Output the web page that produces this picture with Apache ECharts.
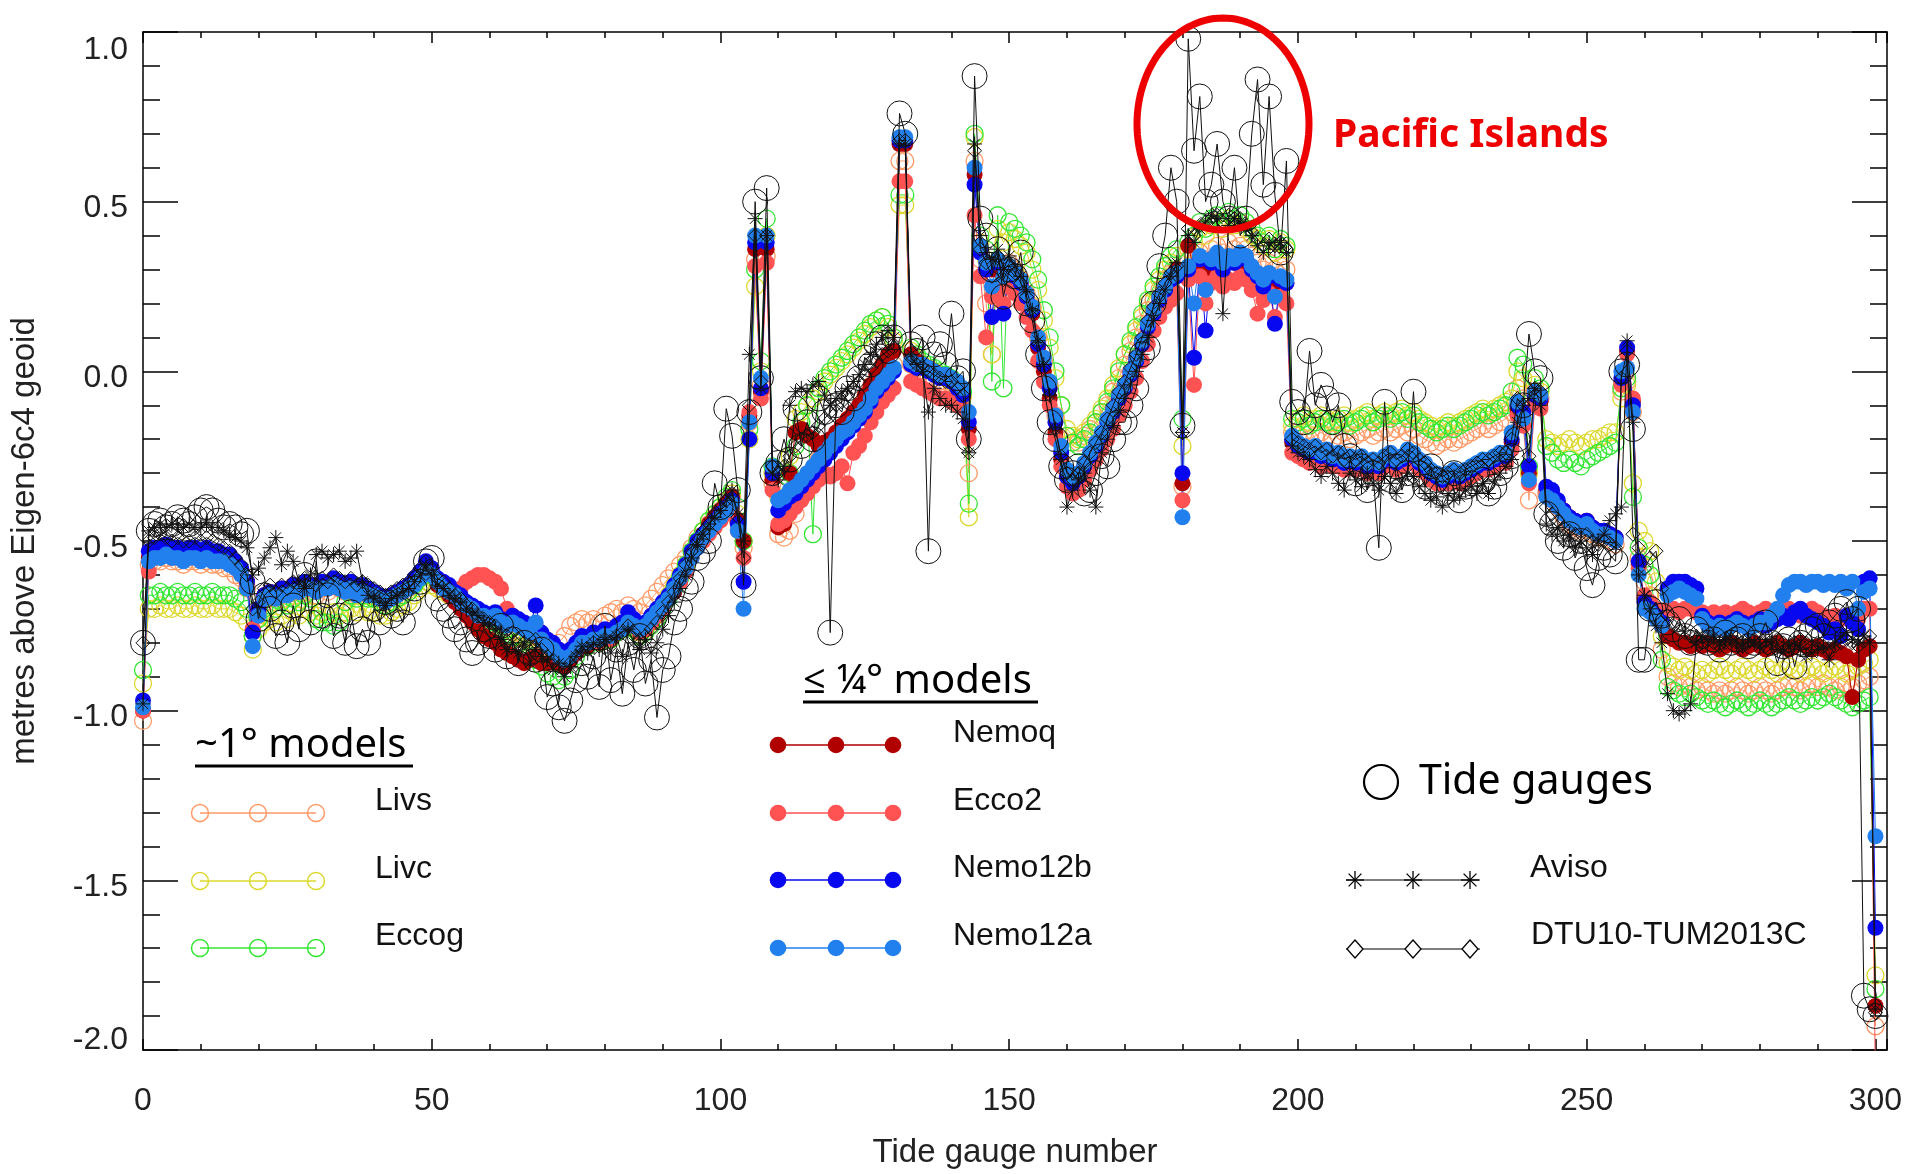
<!DOCTYPE html>
<html><head><meta charset="utf-8">
<script src="https://cdn.jsdelivr.net/npm/echarts@6/dist/echarts.min.js"></script>
<style>html,body{margin:0;padding:0;background:#fff}#c{width:1911px;height:1174px}</style>
</head><body><div id="c"></div>
<script>
// ---- data: value per tide gauge (index = gauge number 0..300) ----
const livs = [
-1.03,-.57,-.56,-.56,-.55,-.56,-.56,-.57,-.56,-.56,
-.57,-.56,-.57,-.57,-.58,-.58,-.60,-.61,-.64,-.78,
-.72,-.68,-.67,-.68,-.66,-.67,-.65,-.66,-.64,-.65,
-.66,-.64,-.65,-.63,-.64,-.65,-.64,-.66,-.65,-.66,
-.67,-.68,-.69,-.68,-.67,-.66,-.65,-.63,-.61,-.58,
-.60,-.62,-.63,-.64,-.66,-.67,-.69,-.70,-.71,-.72,
-.74,-.75,-.77,-.78,-.79,-.80,-.81,-.80,-.79,-.81,
-.82,-.81,-.80,-.78,-.75,-.74,-.73,-.74,-.73,-.74,
-.72,-.71,-.70,-.71,-.69,-.70,-.71,-.69,-.67,-.65,
-.63,-.61,-.59,-.57,-.55,-.52,-.49,-.47,-.45,-.43,
-.41,-.39,-.37,-.44,-.52,-.15,.33,-.04,.34,-.33,
-.48,-.49,-.47,-.42,-.36,-.32,-.29,-.26,-.24,-.22,
-.20,-.18,-.16,-.13,-.11,-.08,-.05,-.03,-.01,.01,
.02,.62,.62,.02,.01,.00,-.01,-.02,-.03,-.03,
-.04,-.05,-.07,-.30,.62,.33,.20,.05,.30,.25,
.32,.30,.27,.23,.19,.10,.03,-.04,-.13,-.20,
-.19,-.21,-.21,-.19,-.17,-.15,-.12,-.10,-.06,-.02,
.02,.06,.10,.14,.18,.21,.24,.27,.29,.30,
-.34,.33,.32,.35,.33,.36,.37,.35,.38,.36,
.37,.36,.34,.32,.30,.32,.30,.31,.30,-.18,
-.19,-.18,-.20,-.19,-.18,-.19,-.20,-.19,-.18,-.20,
-.19,-.18,-.17,-.19,-.18,-.17,-.18,-.17,-.16,-.18,
-.17,-.19,-.20,-.21,-.22,-.21,-.20,-.21,-.20,-.19,
-.18,-.17,-.16,-.17,-.16,-.15,-.14,-.12,-.05,-.08,
-.38,-.06,-.08,-.36,-.37,-.40,-.43,-.45,-.46,-.47,
-.46,-.48,-.49,-.49,-.50,-.51,-.06,-.03,-.12,-.55,
-.62,-.66,-.72,-.82,-.90,-.92,-.93,-.92,-.93,-.94,
-.93,-.94,-.95,-.94,-.95,-.94,-.93,-.94,-.95,-.94,
-.93,-.94,-.95,-.94,-.93,-.92,-.93,-.94,-.93,-.92,
-.93,-.92,-.93,-.94,-.93,-.92,-.93,-.92,-.91,-.90,-1.93];

const livc = [
-.92,-.70,-.70,-.69,-.70,-.70,-.69,-.70,-.70,-.69,
-.70,-.70,-.69,-.70,-.70,-.70,-.71,-.72,-.74,-.82,
-.76,-.74,-.73,-.74,-.72,-.73,-.71,-.72,-.70,-.71,
-.72,-.71,-.72,-.71,-.72,-.71,-.70,-.71,-.70,-.71,
-.71,-.72,-.72,-.71,-.70,-.69,-.68,-.66,-.64,-.62,
-.63,-.64,-.65,-.66,-.67,-.68,-.70,-.71,-.72,-.73,
-.74,-.74,-.75,-.76,-.77,-.78,-.79,-.80,-.81,-.82,
-.84,-.85,-.86,-.85,-.84,-.82,-.80,-.80,-.79,-.80,
-.78,-.79,-.77,-.76,-.75,-.76,-.77,-.76,-.74,-.72,
-.69,-.66,-.63,-.60,-.57,-.53,-.50,-.47,-.44,-.42,
-.40,-.38,-.36,-.42,-.50,-.20,.25,.00,.40,-.30,
-.37,-.40,-.25,-.14,-.12,-.10,-.08,-.06,-.03,-.01,
.01,.03,.05,.07,.09,.11,.13,.15,.16,.13,
.09,.49,.49,.06,.04,.02,.01,.00,-.01,-.02,
-.03,-.05,-.07,-.43,.69,.38,.33,.05,.42,.38,
.41,.39,.37,.35,.30,.24,.15,.07,-.02,-.10,
-.17,-.19,-.20,-.18,-.16,-.14,-.11,-.08,-.04,.01,
.05,.08,.12,.16,.20,.24,.27,.30,.32,.34,
-.22,.36,.38,.42,.40,.43,.44,.42,.45,.43,
.44,.42,.40,.39,.37,.39,.35,.38,.36,-.16,
-.14,-.13,-.15,-.14,-.13,-.14,-.15,-.14,-.13,-.15,
-.14,-.13,-.12,-.14,-.13,-.12,-.13,-.12,-.11,-.13,
-.12,-.14,-.15,-.16,-.17,-.16,-.15,-.16,-.15,-.14,
-.13,-.12,-.11,-.12,-.11,-.10,-.09,-.08,.00,-.02,
-.30,-.04,-.06,-.20,-.21,-.22,-.21,-.20,-.21,-.22,
-.21,-.20,-.20,-.19,-.18,-.18,-.08,-.04,-.33,-.47,
-.50,-.53,-.62,-.78,-.86,-.87,-.88,-.87,-.88,-.89,
-.88,-.89,-.88,-.87,-.88,-.89,-.88,-.87,-.88,-.89,
-.88,-.87,-.88,-.89,-.88,-.87,-.88,-.89,-.88,-.87,
-.88,-.89,-.88,-.87,-.88,-.89,-.88,-.87,-.86,-.85,-1.78];

const eccog = [
-.88,-.66,-.66,-.65,-.66,-.66,-.65,-.66,-.66,-.65,
-.66,-.66,-.65,-.66,-.66,-.66,-.67,-.68,-.70,-.78,
-.73,-.70,-.69,-.70,-.68,-.69,-.67,-.68,-.66,-.67,
-.73,-.74,-.74,-.75,-.74,-.68,-.66,-.67,-.66,-.67,
-.67,-.68,-.69,-.68,-.67,-.66,-.65,-.63,-.61,-.59,
-.60,-.62,-.63,-.64,-.66,-.67,-.69,-.70,-.72,-.73,
-.74,-.73,-.75,-.76,-.78,-.80,-.82,-.84,-.85,-.87,
-.89,-.90,-.91,-.90,-.88,-.84,-.80,-.81,-.79,-.80,
-.78,-.79,-.77,-.76,-.74,-.76,-.78,-.77,-.75,-.73,
-.70,-.67,-.64,-.61,-.57,-.53,-.50,-.47,-.44,-.42,
-.40,-.37,-.35,-.40,-.50,-.17,.30,.03,.45,-.28,
-.35,-.38,-.30,-.22,-.15,-.10,-.48,-.05,-.02,.00,
.02,.04,.06,.08,.10,.12,.14,.15,.16,.14,
.10,.52,.52,.07,.05,.03,.02,.01,.00,-.01,
-.02,-.04,-.06,-.39,.70,.40,.36,-.03,.46,-.05,
.44,.42,.40,.38,.33,.27,.18,.10,.00,-.10,
-.19,-.21,-.22,-.20,-.18,-.15,-.12,-.09,-.05,.00,
.05,.09,.13,.17,.21,.25,.28,.31,.34,.36,
-.14,.38,.40,.44,.42,.45,.46,.44,.47,.45,
.46,.44,.42,.40,.38,.40,.36,.39,.37,-.14,
-.15,-.14,-.16,-.15,-.14,-.15,-.16,-.15,-.14,-.16,
-.15,-.14,-.13,-.15,-.14,-.13,-.14,-.13,-.12,-.14,
-.13,-.15,-.16,-.17,-.18,-.17,-.16,-.17,-.16,-.15,
-.14,-.13,-.12,-.13,-.12,-.11,-.10,-.06,.04,.02,
-.28,-.02,-.05,-.22,-.24,-.26,-.27,-.26,-.27,-.28,
-.26,-.25,-.24,-.23,-.22,-.21,-.05,-.02,-.37,-.52,
-.57,-.60,-.72,-.85,-.93,-.94,-.95,-.96,-.95,-.96,
-.97,-.98,-.97,-.98,-.99,-.98,-.97,-.98,-.99,-.98,
-.97,-.98,-.99,-.98,-.97,-.96,-.97,-.98,-.97,-.96,
-.97,-.96,-.95,-.96,-.97,-.98,-.99,-.98,-.97,-.96,-1.82];

const nemoq = [
-1.00,-.55,-.54,-.53,-.53,-.54,-.53,-.54,-.54,-.53,
-.54,-.53,-.54,-.54,-.55,-.55,-.57,-.59,-.62,-.76,
-.70,-.66,-.65,-.66,-.64,-.65,-.63,-.64,-.63,-.64,
-.64,-.63,-.64,-.62,-.63,-.64,-.63,-.65,-.64,-.65,
-.66,-.67,-.68,-.67,-.66,-.65,-.64,-.62,-.60,-.58,
-.60,-.63,-.64,-.66,-.68,-.70,-.72,-.74,-.76,-.78,
-.79,-.80,-.82,-.83,-.84,-.85,-.86,-.85,-.84,-.86,
-.86,-.85,-.86,-.87,-.85,-.83,-.81,-.81,-.79,-.80,
-.78,-.79,-.77,-.76,-.74,-.75,-.77,-.76,-.74,-.72,
-.70,-.67,-.65,-.62,-.58,-.54,-.51,-.48,-.45,-.43,
-.41,-.39,-.37,-.44,-.50,-.13,.36,-.06,.36,-.32,
-.46,-.45,-.30,-.18,-.17,-.19,-.20,-.22,-.21,-.20,
-.18,-.16,-.14,-.12,-.10,-.07,-.04,-.01,.02,.05,
.06,.67,.67,.05,.03,.02,.01,.00,-.01,-.02,
-.03,-.05,-.07,-.17,.58,.36,.30,.30,.32,.29,
.30,.28,.25,.21,.17,.07,.00,-.08,-.18,-.26,
-.31,-.33,-.31,-.28,-.25,-.22,-.19,-.15,-.11,-.07,
-.04,.00,.04,.09,.14,.18,.22,.25,.28,.30,
-.33,.37,.30,.32,.30,.33,.34,.31,.33,.32,
.33,.32,.30,.28,.26,.28,.26,.27,.26,-.21,
-.22,-.23,-.24,-.23,-.25,-.24,-.26,-.25,-.27,-.26,
-.27,-.26,-.28,-.27,-.28,-.26,-.25,-.27,-.26,-.24,
-.25,-.27,-.28,-.30,-.31,-.32,-.31,-.30,-.31,-.30,
-.29,-.28,-.27,-.27,-.26,-.25,-.25,-.21,-.11,-.13,
-.30,-.08,-.09,-.35,-.36,-.39,-.41,-.43,-.44,-.45,
-.44,-.46,-.47,-.47,-.48,-.49,-.03,.06,-.09,-.57,
-.67,-.70,-.72,-.75,-.78,-.79,-.80,-.80,-.81,-.80,
-.81,-.80,-.81,-.82,-.81,-.80,-.81,-.82,-.81,-.80,
-.81,-.82,-.81,-.80,-.81,-.82,-.81,-.80,-.81,-.82,
-.81,-.82,-.83,-.82,-.83,-.84,-.96,-.85,-.82,-.81,-1.87];

const ecco2 = [
-1.00,-.59,-.55,-.54,-.54,-.55,-.54,-.55,-.55,-.54,
-.55,-.54,-.55,-.55,-.56,-.56,-.58,-.60,-.63,-.76,
-.71,-.67,-.66,-.67,-.65,-.66,-.64,-.65,-.64,-.64,
-.65,-.63,-.64,-.63,-.64,-.64,-.63,-.65,-.64,-.65,
-.66,-.67,-.67,-.66,-.66,-.65,-.64,-.62,-.60,-.58,
-.59,-.62,-.63,-.64,-.66,-.64,-.62,-.61,-.60,-.60,
-.61,-.62,-.64,-.70,-.72,-.74,-.75,-.76,-.75,-.78,
-.80,-.81,-.83,-.84,-.83,-.81,-.80,-.80,-.79,-.80,
-.78,-.79,-.77,-.76,-.74,-.75,-.77,-.76,-.74,-.72,
-.70,-.67,-.64,-.62,-.59,-.55,-.52,-.50,-.48,-.46,
-.44,-.42,-.40,-.47,-.55,-.12,.31,-.08,.32,-.35,
-.45,-.44,-.42,-.40,-.38,-.36,-.34,-.32,-.30,-.31,
-.30,-.28,-.33,-.24,-.22,-.19,-.15,-.12,-.09,-.07,
-.05,.56,.56,-.03,-.04,-.05,-.06,-.07,-.08,-.08,
-.09,-.10,-.11,-.20,.46,.28,.10,.22,.24,.20,
.25,.23,.20,.16,.12,.03,-.03,-.10,-.20,-.28,
-.34,-.36,-.35,-.32,-.29,-.26,-.23,-.20,-.17,-.13,
-.10,-.06,-.02,.03,.08,.12,.16,.19,.21,.23,
-.38,.27,-.04,.28,.20,.26,.28,.25,.27,.26,
.28,.27,.24,.17,.21,.23,.16,.22,.20,-.24,
-.25,-.26,-.27,-.26,-.28,-.27,-.28,-.28,-.29,-.28,
-.29,-.28,-.30,-.29,-.30,-.28,-.27,-.29,-.28,-.27,
-.27,-.29,-.30,-.32,-.33,-.33,-.33,-.32,-.33,-.32,
-.31,-.30,-.29,-.29,-.28,-.27,-.27,-.23,-.13,-.16,
-.33,-.10,-.11,-.36,-.38,-.40,-.42,-.44,-.45,-.46,
-.45,-.47,-.48,-.48,-.49,-.50,-.04,.05,-.08,-.58,
-.66,-.68,-.70,-.71,-.70,-.70,-.71,-.70,-.70,-.71,
-.71,-.72,-.71,-.72,-.71,-.72,-.71,-.70,-.71,-.72,
-.71,-.70,-.71,-.72,-.71,-.70,-.71,-.72,-.71,-.70,
-.71,-.72,-.73,-.72,-.73,-.72,-.74,-.73,-.70,-.70,-2.10];

const nemo12b = [
-.97,-.53,-.52,-.52,-.51,-.52,-.52,-.53,-.52,-.52,
-.53,-.52,-.53,-.53,-.54,-.54,-.56,-.58,-.62,-.77,
-.70,-.66,-.65,-.66,-.64,-.65,-.63,-.64,-.62,-.63,
-.64,-.62,-.63,-.61,-.62,-.63,-.62,-.64,-.63,-.64,
-.65,-.66,-.67,-.66,-.65,-.64,-.63,-.61,-.59,-.56,
-.58,-.61,-.62,-.63,-.65,-.66,-.68,-.69,-.70,-.71,
-.72,-.71,-.73,-.74,-.72,-.73,-.74,-.75,-.69,-.77,
-.79,-.80,-.82,-.83,-.82,-.80,-.78,-.79,-.77,-.78,
-.76,-.77,-.75,-.74,-.71,-.73,-.75,-.74,-.72,-.70,
-.68,-.66,-.63,-.60,-.57,-.53,-.50,-.48,-.46,-.44,
-.42,-.40,-.38,-.45,-.62,-.20,.38,-.05,.38,-.30,
-.41,-.39,-.37,-.36,-.34,-.32,-.30,-.28,-.26,-.24,
-.22,-.20,-.18,-.16,-.14,-.12,-.09,-.06,-.04,-.02,
.00,.68,.68,.02,.01,.01,.00,-.01,-.02,-.02,
-.03,-.05,-.07,-.15,.55,.35,.30,.16,.32,.17,
.30,.28,.26,.22,.18,.08,.02,-.05,-.15,-.24,
-.31,-.33,-.31,-.28,-.25,-.22,-.19,-.15,-.12,-.08,
-.05,-.01,.03,.08,.13,.17,.21,.24,.27,.28,
-.30,.30,.04,.33,.12,.32,.34,.30,.33,.32,
.34,.33,.30,.28,.25,.28,.14,.27,.26,-.20,
-.22,-.23,-.24,-.23,-.25,-.24,-.26,-.25,-.27,-.26,
-.27,-.26,-.28,-.27,-.28,-.26,-.25,-.27,-.26,-.24,
-.25,-.27,-.28,-.30,-.31,-.32,-.31,-.30,-.31,-.30,
-.29,-.28,-.27,-.27,-.26,-.25,-.25,-.20,-.10,-.12,
-.28,-.07,-.08,-.34,-.35,-.38,-.41,-.43,-.44,-.45,
-.44,-.46,-.47,-.47,-.48,-.49,-.02,.07,-.10,-.56,
-.68,-.70,-.72,-.74,-.64,-.62,-.62,-.62,-.63,-.64,
-.72,-.74,-.75,-.74,-.75,-.74,-.73,-.74,-.75,-.74,
-.73,-.75,-.74,-.73,-.72,-.73,-.71,-.70,-.72,-.73,
-.74,-.75,-.77,-.76,-.78,-.72,-.74,-.76,-.62,-.61,-1.64];

const nemo12a = [
-.99,-.56,-.55,-.55,-.54,-.55,-.55,-.56,-.55,-.55,
-.56,-.55,-.56,-.56,-.56,-.57,-.58,-.60,-.64,-.81,
-.72,-.67,-.66,-.67,-.66,-.66,-.65,-.65,-.64,-.64,
-.65,-.64,-.64,-.63,-.64,-.65,-.64,-.66,-.65,-.66,
-.66,-.67,-.68,-.67,-.66,-.65,-.64,-.63,-.61,-.59,
-.60,-.62,-.64,-.65,-.66,-.68,-.69,-.70,-.72,-.72,
-.73,-.72,-.74,-.75,-.74,-.75,-.76,-.77,-.74,-.79,
-.81,-.82,-.84,-.85,-.84,-.82,-.80,-.80,-.79,-.79,
-.78,-.78,-.77,-.76,-.74,-.75,-.76,-.75,-.73,-.71,
-.69,-.67,-.64,-.61,-.58,-.55,-.52,-.49,-.47,-.45,
-.43,-.41,-.39,-.47,-.70,-.15,.40,-.02,.40,-.28,
-.38,-.37,-.35,-.34,-.32,-.30,-.28,-.26,-.24,-.22,
-.20,-.18,-.17,-.15,-.13,-.11,-.08,-.05,-.03,-.01,
.01,.69,.69,.03,.02,.02,.01,.00,-.01,-.01,
-.02,-.03,-.05,-.12,.60,.37,.32,.25,.33,.28,
.31,.29,.27,.23,.19,.10,.04,-.03,-.13,-.22,
-.29,-.31,-.30,-.27,-.24,-.21,-.18,-.14,-.11,-.07,
-.04,.00,.04,.09,.14,.18,.22,.25,.28,.29,
-.43,.31,.20,.34,.24,.33,.35,.32,.34,.33,
.35,.34,.31,.29,.27,.29,.22,.28,.27,-.19,
-.21,-.22,-.23,-.22,-.24,-.23,-.25,-.24,-.26,-.25,
-.26,-.25,-.27,-.26,-.27,-.25,-.24,-.26,-.25,-.23,
-.24,-.26,-.27,-.29,-.30,-.31,-.30,-.29,-.30,-.29,
-.28,-.27,-.26,-.26,-.25,-.24,-.24,-.18,-.09,-.14,
-.32,-.06,-.07,-.37,-.38,-.40,-.42,-.44,-.45,-.46,
-.45,-.47,-.48,-.48,-.49,-.50,.00,.01,-.12,-.60,
-.70,-.71,-.73,-.75,-.66,-.65,-.64,-.65,-.66,-.67,
-.73,-.75,-.76,-.75,-.76,-.75,-.74,-.75,-.76,-.75,
-.74,-.74,-.72,-.70,-.66,-.63,-.62,-.62,-.63,-.62,
-.62,-.63,-.62,-.63,-.62,-.64,-.62,-.70,-.65,-.64,-1.37];

const dtu = [
-.80,-.50,-.49,-.48,-.49,-.50,-.49,-.50,-.50,-.49,
-.50,-.49,-.50,-.51,-.52,-.53,-.55,-.57,-.60,-.70,
-.68,-.64,-.63,-.65,-.63,-.64,-.62,-.63,-.61,-.62,
-.63,-.61,-.62,-.60,-.61,-.62,-.61,-.63,-.62,-.63,
-.64,-.65,-.66,-.65,-.64,-.63,-.62,-.60,-.58,-.56,
-.58,-.61,-.62,-.64,-.66,-.67,-.69,-.70,-.72,-.73,
-.74,-.75,-.77,-.78,-.77,-.79,-.80,-.81,-.79,-.82,
-.84,-.85,-.87,-.88,-.86,-.84,-.82,-.82,-.80,-.81,
-.79,-.80,-.78,-.77,-.75,-.77,-.79,-.78,-.76,-.74,
-.71,-.68,-.65,-.61,-.57,-.53,-.50,-.47,-.45,-.42,
-.40,-.38,-.36,-.43,-.55,-.10,.40,-.03,.40,-.28,
-.30,-.28,-.25,-.22,-.20,-.19,-.18,-.16,-.14,-.12,
-.10,-.09,-.07,-.05,-.03,-.01,.01,.03,.05,.06,
.07,.68,.68,.04,.02,.01,.00,-.01,-.02,-.03,
-.03,-.05,-.07,-.24,.65,.36,.32,.28,.34,.27,
.31,.29,.26,.22,.17,.08,.01,-.07,-.17,-.25,
-.30,-.32,-.30,-.27,-.24,-.21,-.18,-.14,-.10,-.06,
-.03,.01,.05,.10,.15,.19,.23,.26,.29,.31,
-.18,.42,.40,.43,.44,.45,.46,.44,.46,.45,
.45,.43,.41,.39,.37,.39,.37,.38,.36,-.20,
-.21,-.22,-.23,-.22,-.24,-.23,-.25,-.24,-.26,-.25,
-.26,-.25,-.27,-.26,-.27,-.25,-.24,-.26,-.25,-.23,
-.24,-.26,-.27,-.29,-.30,-.31,-.30,-.29,-.30,-.29,
-.28,-.27,-.26,-.26,-.25,-.24,-.24,-.20,-.08,-.10,
-.25,-.05,-.06,-.40,-.42,-.44,-.46,-.47,-.48,-.49,
-.48,-.50,-.51,-.50,-.51,-.52,-.02,.06,-.48,-.52,
-.58,-.55,-.53,-.64,-.72,-.75,-.76,-.77,-.78,-.79,
-.80,-.79,-.80,-.81,-.80,-.79,-.80,-.81,-.80,-.79,
-.80,-.81,-.80,-.79,-.80,-.81,-.80,-.79,-.80,-.81,
-.80,-.81,-.82,-.81,-.80,-.79,-.80,-.81,-.79,-.78,-1.89];

const aviso = [
-.98,-.47,-.46,-.45,-.46,-.45,-.45,-.46,-.45,-.46,
-.46,-.45,-.46,-.46,-.47,-.48,-.49,-.50,-.52,-.60,
-.58,-.55,-.52,-.49,-.57,-.53,-.56,-.62,-.64,-.60,
-.54,-.53,-.55,-.54,-.53,-.56,-.55,-.53,-.62,-.66,
-.67,-.68,-.69,-.67,-.66,-.65,-.64,-.62,-.60,-.57,
-.60,-.63,-.64,-.66,-.67,-.68,-.70,-.71,-.72,-.74,
-.75,-.76,-.79,-.82,-.80,-.83,-.80,-.86,-.82,-.84,
-.85,-.88,-.86,-.90,-.87,-.84,-.81,-.83,-.80,-.82,
-.79,-.83,-.78,-.84,-.76,-.80,-.82,-.79,-.83,-.80,
-.76,-.72,-.68,-.64,-.60,-.55,-.51,-.48,-.45,-.43,
-.41,-.38,-.35,-.42,-.50,.05,.45,-.05,.40,-.30,
-.32,-.28,-.10,-.06,-.05,-.06,-.04,-.03,-.07,-.10,
-.08,-.06,-.05,-.03,-.01,.02,.05,.08,.10,.12,
.10,.67,.67,.05,.02,.00,-.12,-.05,-.08,-.10,
-.10,-.12,-.14,-.24,.67,.40,.35,.33,.36,.30,
.34,.31,.28,.24,.18,.09,.02,-.07,-.17,-.26,
-.40,-.35,-.32,-.30,-.35,-.40,-.24,-.20,-.16,-.12,
-.08,-.04,.00,.05,.10,.15,.20,.24,.28,.32,
-.18,.40,.38,.42,.44,.46,.45,.17,.43,.45,
.44,.42,.40,.37,.35,.38,.36,.38,.35,-.22,
-.24,-.25,-.26,-.29,-.31,-.28,-.30,-.33,-.35,-.30,
-.32,-.34,-.30,-.33,-.35,-.31,-.33,-.36,-.32,-.30,
-.31,-.34,-.36,-.38,-.37,-.40,-.36,-.38,-.37,-.35,
-.34,-.36,-.33,-.36,-.32,-.30,-.28,-.26,-.15,-.10,
-.08,-.05,-.10,-.45,-.48,-.46,-.50,-.48,-.52,-.50,
-.52,-.54,-.50,-.48,-.44,-.42,-.40,.09,-.15,-.60,
-.66,-.70,-.75,-.80,-.95,-1.00,-1.01,-1.00,-.98,-.80,
-.78,-.79,-.78,-.80,-.79,-.78,-.80,-.81,-.79,-.80,
-.81,-.79,-.80,-.82,-.83,-.81,-.80,-.82,-.84,-.83,
-.82,-.81,-.85,-.80,-.78,-.77,-.79,-.80,-.78,-.80,-1.88];

const tideGauges = [
-.80,-.47,-.45,-.44,-.46,-.45,-.43,-.44,-.45,-.43,
-.41,-.40,-.41,-.44,-.46,-.45,-.46,-.48,-.47,-.62,
-.73,-.66,-.70,-.78,-.74,-.80,-.69,-.76,-.60,-.74,
-.56,-.72,-.66,-.78,-.72,-.80,-.71,-.81,-.76,-.80,
-.70,-.74,-.68,-.72,-.70,-.74,-.68,-.64,-.62,-.56,
-.55,-.67,-.70,-.72,-.76,-.74,-.79,-.83,-.80,-.76,
-.78,-.82,-.75,-.84,-.79,-.86,-.80,-.83,-.85,-.82,
-.96,-.92,-.99,-1.03,-.97,-.91,-.86,-.90,-.84,-.93,
-.75,-.91,-.82,-.95,-.80,-.88,-.78,-.92,-.85,-1.02,
-.88,-.84,-.74,-.70,-.64,-.62,-.55,-.53,-.50,-.33,
-.40,-.11,-.19,-.35,-.63,-.12,.50,-.02,.54,-.30,
-.27,-.20,-.26,-.11,-.22,-.15,-.20,-.08,-.12,-.77,
-.10,-.12,-.05,-.08,-.02,.04,.02,.08,.10,.06,
.10,.76,.70,.08,.06,.10,-.53,.05,.08,.02,
.17,-.02,.00,-.20,.87,.45,.40,.30,.36,.22,
.30,.28,.35,.20,.15,.05,-.05,-.15,-.20,-.28,
-.32,-.30,-.28,-.36,-.35,-.30,-.25,-.28,-.20,-.15,
-.15,-.10,-.05,.05,.07,.20,.31,.40,.60,.50,
-.16,.98,.65,.81,.50,.55,.67,.50,.45,.60,
.40,.45,.70,.86,.55,.81,.52,.35,.62,-.09,
-.12,-.15,.06,-.10,-.04,-.08,-.15,-.10,-.22,-.25,
-.33,-.28,-.35,-.30,-.52,-.09,-.32,-.28,-.35,-.30,
-.06,-.30,-.34,-.28,-.32,-.36,-.33,-.30,-.38,-.34,
-.33,-.30,-.32,-.36,-.34,-.30,-.28,-.25,-.20,-.10,
.11,.00,-.02,-.42,-.45,-.50,-.52,-.48,-.55,-.50,
-.58,-.63,-.55,-.52,-.54,-.56,.00,.02,-.17,-.85,
-.85,-.70,-.68,-.72,-.74,-.76,-.73,-.78,-.80,-.76,
-.78,-.80,-.79,-.82,-.77,-.80,-.79,-.78,-.81,-.80,
-.78,-.74,-.80,-.86,-.81,-.79,-.87,-.80,-.78,-.76,
-.75,-.78,-.74,-.72,-.70,-.68,-.73,-.70,-1.84,-1.88,-1.90];

const xTicks = [0, 50, 100, 150, 200, 250, 300];
const yTicks = [-2.0, -1.5, -1.0, -0.5, 0.0, 0.5, 1.0];

const all = {livs, livc, eccog, nemoq, ecco2, nemo12b, nemo12a, dtu, aviso, tideGauges};
for (const k in all) if (all[k].length !== 301) throw new Error('length ' + k + ' ' + all[k].length);
const gauges = livs.map((_, i) => i);

// ---- styles ----
const C = {livs:'#ff9a66', livc:'#dcd82e', eccog:'#33e633', nemoq:'#b00000', ecco2:'#ff5252',
           nemo12b:'#0808f0', nemo12a:'#2280ee', black:'#000'};
const ASTER = 'path://M10,0L10,20M0,10L20,10M2.93,2.93L17.07,17.07M2.93,17.07L17.07,2.93';

function openSeries(name, vals, col, size, z) {
  return {type:'line', name, z, data: vals.map((v,i)=>[gauges[i], v]),
    symbol:'circle', symbolSize:size, showAllSymbol:true, animation:false, silent:true,
    lineStyle:{color:col, width:1}, itemStyle:{color:'rgba(255,255,255,0)', borderColor:col, borderWidth:1.3}};
}
function filledSeries(name, vals, col, z) {
  return {type:'line', name, z, data: vals.map((v,i)=>[gauges[i], v]),
    symbol:'circle', symbolSize:16, showAllSymbol:true, animation:false, silent:true,
    lineStyle:{color:col, width:1}, itemStyle:{color:col, borderWidth:0}};
}
function blackSeries(name, vals, symbol, size, z) {
  return {type:'line', name, z, data: vals.map((v,i)=>[gauges[i], v]),
    symbol, symbolSize:size, showAllSymbol:true, animation:false, silent:true,
    lineStyle:{color:'#111', width:1}, itemStyle:{color:'rgba(255,255,255,0)', borderColor:'#111', borderWidth:1}};
}

const series = [
  openSeries('Livs', livs, C.livs, 17, 2),
  openSeries('Livc', livc, C.livc, 17, 2),
  openSeries('Eccog', eccog, C.eccog, 17, 2),
  filledSeries('Nemoq', nemoq, C.nemoq, 3),
  filledSeries('Ecco2', ecco2, C.ecco2, 3),
  filledSeries('Nemo12b', nemo12b, C.nemo12b, 3),
  filledSeries('Nemo12a', nemo12a, C.nemo12a, 3),
  blackSeries('DTU10-TUM2013C', dtu, 'diamond', 14, 4),
  blackSeries('Aviso', aviso, ASTER, 15, 4),
  blackSeries('Tide gauges', tideGauges, 'circle', 25, 5)
];

const LF = '"Liberation Sans", Arial, Helvetica, sans-serif';
const NF = '"Noto Sans", "Open Sans", sans-serif';
const axisCommonX = {type:'value', min:0, max:302, interval:50,
  axisLine:{show:true, onZero:false, lineStyle:{color:'#000', width:1.5}},
  axisTick:{show:true, inside:true, length:11, lineStyle:{color:'#000', width:1.5}},
  minorTick:{show:true, splitNumber:5, length:6, lineStyle:{color:'#000', width:1.5}},
  splitLine:{show:false}, minorSplitLine:{show:false}};
const axisCommonY = {type:'value', min:-2, max:1, interval:0.5,
  axisLine:{show:true, onZero:false, lineStyle:{color:'#000', width:1.5}},
  axisTick:{show:true, inside:true, length:35, lineStyle:{color:'#000', width:1.5}},
  minorTick:{show:true, splitNumber:5, length:17, lineStyle:{color:'#000', width:1.5}},
  splitLine:{show:false}, minorSplitLine:{show:false}};

// ---- legend / annotation graphics ----
const g = [];
function txt(x, y, s, font, fill, align) {
  g.push({type:'text', x, y, silent:true, z:100, style:{text:s, font, fill:fill||'#111',
    textAlign:align||'left', align:align||'left', textVerticalAlign:'middle', verticalAlign:'middle'}});
}
function ln(x1, y1, x2, y2, col, w) {
  g.push({type:'line', silent:true, z:100, shape:{x1,y1,x2,y2}, style:{stroke:col, lineWidth:w}});
}
// ~1° models
txt(195, 746, '~1° models', '40px ' + NF, '#000');
ln(195, 766, 413, 766, '#000', 3);
[[813,'Livs',C.livs],[881,'Livc',C.livc],[948,'Eccog',C.eccog]].forEach(([y,s,c])=>{
  ln(200, y, 316, y, c, 1.5);
  [200,258,316].forEach(x=>g.push({type:'circle', silent:true, z:101, shape:{cx:x, cy:y, r:8.5},
    style:{fill:'rgba(255,255,255,0)', stroke:c, lineWidth:1.5}}));
  txt(375, y-12, s, '32px ' + LF, '#111');
});
// ≤ ¼° models
txt(803, 682, '≤ ¼° models', '40px ' + NF, '#000');
ln(803, 702, 1038, 702, '#000', 3);
[[745,'Nemoq',C.nemoq],[813,'Ecco2',C.ecco2],[880,'Nemo12b',C.nemo12b],[948,'Nemo12a',C.nemo12a]].forEach(([y,s,c])=>{
  ln(778, y, 893, y, c, 1.5);
  [778,836,893].forEach(x=>g.push({type:'circle', silent:true, z:101, shape:{cx:x, cy:y, r:8.3},
    style:{fill:c, stroke:c, lineWidth:0}}));
  txt(953, y-12, s, '32px ' + LF, '#111');
});
// Tide gauges / Aviso / DTU
g.push({type:'circle', silent:true, z:101, shape:{cx:1381, cy:782, r:17}, style:{fill:'rgba(255,255,255,0)', stroke:'#000', lineWidth:2.2}});
txt(1419, 782, 'Tide gauges', '41px ' + NF, '#000');
ln(1346, 880, 1480, 880, '#000', 1.2);
[1355,1413,1470].forEach(x=>{
  ln(x, 871, x, 889, '#000', 1.3);
  ln(x-9, 880, x+9, 880, '#000', 1.3);
  ln(x-6.4, 873.6, x+6.4, 886.4, '#000', 1.3);
  ln(x-6.4, 886.4, x+6.4, 873.6, '#000', 1.3);
});
txt(1530, 868, 'Aviso', '32px ' + LF, '#111');
ln(1346, 949, 1480, 949, '#000', 1.2);
[1355,1413,1470].forEach(x=>g.push({type:'polygon', silent:true, z:101,
  shape:{points:[[x,940],[x+8,949],[x,958],[x-8,949]]}, style:{fill:'#fff', stroke:'#000', lineWidth:1.3}}));
txt(1531, 935, 'DTU10-TUM2013C', '32px ' + LF, '#111');
// Pacific Islands annotation (ellipse outline as a closed polygon)
const ell = [];
for (let k = 0; k < 120; k++) { const t = k / 120 * Math.PI * 2; ell.push([1223 + 86*Math.cos(t), 124 + 106*Math.sin(t)]); }
g.push({type:'polygon', silent:true, z:102, shape:{points:ell}, style:{fill:'none', stroke:'#ee0000', lineWidth:7}});
txt(1333, 136, 'Pacific Islands', 'bold 39px ' + NF, '#ee0000');

const chart = echarts.init(document.getElementById('c'), null, {renderer:'canvas'});
chart.setOption({
  animation:false,
  backgroundColor:'#fff',
  grid:{left:143, right:24, top:32, bottom:124, containLabel:false, outerBoundsMode:'none'},
  xAxis:[
    Object.assign({}, axisCommonX, {position:'bottom',
      name:'Tide gauge number', nameLocation:'middle', nameGap:86,
      nameTextStyle:{fontFamily:LF, fontSize:33, color:'#222'},
      axisLabel:{show:true, margin:35, fontFamily:LF, fontSize:32, color:'#222', showMaxLabel:false}}),
    Object.assign({}, axisCommonX, {position:'top', axisLabel:{show:false}})
  ],
  yAxis:[
    Object.assign({}, axisCommonY, {position:'left',
      name:'metres above Eigen-6c4 geoid', nameLocation:'middle', nameGap:102, nameRotate:90,
      nameTextStyle:{fontFamily:LF, fontSize:33, color:'#222'},
      axisLabel:{show:true, margin:15, fontFamily:LF, fontSize:32, color:'#222',
        formatter: v => { const s = (Math.abs(v) < 1e-9 ? 0 : v).toFixed(1);
          if (Math.abs(v-1) < 1e-9) return '{a|' + s + '}';
          if (Math.abs(v+2) < 1e-9) return '{b|' + s + '}';
          return '{n|' + s + '}'; },
        rich:{
          n:{fontFamily:LF, fontSize:32, color:'#222', padding:[14,0,0,0]},
          a:{fontFamily:LF, fontSize:32, color:'#222', padding:[36,0,0,0]},
          b:{fontFamily:LF, fontSize:32, color:'#222', padding:[0,0,20,0]}
        }}}),
    Object.assign({}, axisCommonY, {position:'right', axisLabel:{show:false}})
  ],
  graphic: g,
  series
});
</script>
</body></html>
